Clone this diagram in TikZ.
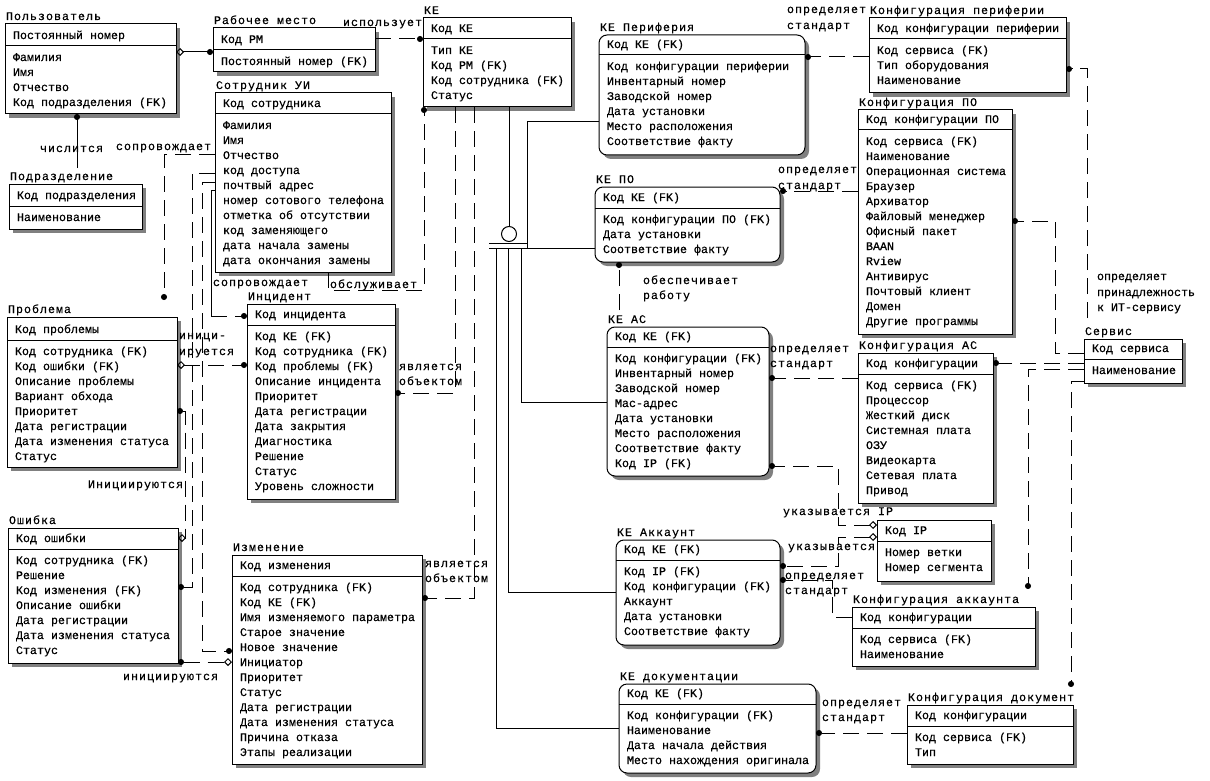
\documentclass[tikz,border=0pt]{standalone}
\usepackage{fontspec}
\newfontfamily\attrfont[FakeBold=0.4]{Liberation Mono}
\newfontfamily\lblfont[LetterSpace=8.6,FakeBold=0.4]{Liberation Mono}
\usetikzlibrary{arrows.meta,fit}
\tikzset{
  every node/.style={inner sep=0pt,outer sep=0pt},
  atxt/.style={anchor=base west,font=\attrfont\fontsize{11.67}{14}\selectfont},
  ttxt/.style={anchor=base west,font=\lblfont\fontsize{11.67}{14}\selectfont},
  ent/.style={draw,fill=white,line width=1pt,inner sep=0pt},
  sharp/.style={},
  round/.style={rounded corners=8pt},
  shadowc/.style={fill=black!50},
  rel/.style={line width=1pt},
  nid/.style={rel,dash pattern=on 16pt off 8pt},
  odia/.tip={Diamond[open,length=8pt,width=8pt]},
  fdot/.tip={Circle[length=6pt,width=6pt]},
}
\newcommand{\entity}[9]{%
  \fill[shadowc,#1] (#3+4,#4+4) rectangle (#5+4,#7+4);
  \node[ent,#1,fit={(#3,#4) (#5,#7)}] (#2) {};
  \draw[rel] (#3,#6) -- (#5,#6);
  \node[ttxt] (#2-t) at (#3+1,#4-4) {#8};
  \node[atxt] (#2-k) at (#3+8,#6-7) {#9};
}
\newcommand{\attrs}[2]{%
  \foreach \t [count=\i from 0] in {#2}
    \path (#1-k.base west) ++(0,22+15*\i) node[atxt] (#1-a\i) {\t};
}
\begin{document}
\begin{tikzpicture}[x=1pt,y=-1pt]
\fill[white] (0,0) rectangle (1210,781);
\useasboundingbox (0,0) rectangle (1210,781);

% ---------- entities ----------
\entity{sharp}{user}{5}{24}{176}{46}{114}{Пользователь}{Постоянный номер}
\attrs{user}{Фамилия,Имя,Отчество,Код подразделения (FK)}

\entity{sharp}{wp}{213}{28}{375}{50}{72}{Рабочее место}{Код РМ}
\attrs{wp}{Постоянный номер (FK)}

\entity{sharp}{ke}{423}{18}{571}{39}{107}{КЕ}{Код КЕ}
\attrs{ke}{Тип КЕ,Код РМ (FK),Код сотрудника (FK),Статус}

\entity{sharp}{emp}{215}{93}{391}{114}{272}{Сотрудник УИ}{Код сотрудника}
\attrs{emp}{Фамилия,Имя,Отчество,код доступа,почтвый адрес,номер сотового телефона,отметка об отсутствии,код заменяющего,дата начала замены,дата окончания замены}

\entity{sharp}{dep}{9}{184}{142}{206}{229}{Подразделение}{Код подразделения}
\attrs{dep}{Наименование}

\entity{round}{kep}{599}{35}{805}{55}{155}{КЕ Периферия}{Код КЕ (FK)}
\attrs{kep}{Код конфигурации периферии,Инвентарный номер,Заводской номер,Дата установки,Место расположения,Соответствие факту}

\entity{round}{kepo}{595}{187}{780}{208}{262}{КЕ ПО}{Код КЕ (FK)}
\attrs{kepo}{Код конфигурации ПО (FK),Дата установки,Соответствие факту}

\entity{round}{keac}{607}{327}{769}{347}{476}{КЕ АС}{Код КЕ (FK)}
\attrs{keac}{Код конфигурации (FK),Инвентарный номер,Заводской номер,Мас-адрес,Дата установки,Место расположения,Соответствие факту,Код IP (FK)}

\entity{round}{keacc}{616}{540}{780}{560}{645}{КЕ Аккаунт}{Код КЕ (FK)}
\attrs{keacc}{Код IP (FK),Код конфигурации (FK),Аккаунт,Дата установки,Соответствие факту}

\entity{round}{kedoc}{619}{684}{816}{704}{773}{КЕ документации}{Код КЕ (FK)}
\attrs{kedoc}{Код конфигурации (FK),Наименование,Дата начала действия,Место нахождения оригинала}

\entity{sharp}{cperi}{869}{18}{1066}{39}{93}{Конфигурация периферии}{Код конфигурации периферии}
\attrs{cperi}{Код сервиса (FK),Тип оборудования,Наименование}

\entity{sharp}{cpo}{858}{110}{1012}{130}{334}{Конфигурация ПО}{Код конфигурации ПО}
\attrs{cpo}{Код сервиса (FK),Наименование,Операционная система,Браузер,Архиватор,Файловый менеджер,Офисный пакет,BAAN,Rview,Антивирус,Почтовый клиент,Домен,Другие программы}

\entity{sharp}{svc}{1084}{339}{1182}{359}{383}{Сервис}{Код сервиса}
\attrs{svc}{Наименование}

\entity{sharp}{cac}{858}{353}{993}{374}{503}{Конфигурация АС}{Код конфигурации}
\attrs{cac}{Код сервиса (FK),Процессор,Жесткий диск,Системная плата,ОЗУ,Видеокарта,Сетевая плата,Привод}

\entity{sharp}{ip}{877}{520}{991}{541}{581}{}{Код IP}
\attrs{ip}{Номер ветки,Номер сегмента}

\entity{sharp}{cacc}{852}{607}{1035}{628}{666}{Конфигурация аккаунта}{Код конфигурации}
\attrs{cacc}{Код сервиса (FK),Наименование}

\entity{sharp}{cdoc}{907}{705}{1073}{726}{764}{Конфигурация документ}{Код конфигурации}
\attrs{cdoc}{Код сервиса (FK),Тип}

\entity{sharp}{prob}{7}{317}{177}{340}{467}{Проблема}{Код проблемы}
\attrs{prob}{Код сотрудника (FK),Код ошибки (FK),Описание проблемы,Вариант обхода,Приоритет,Дата регистрации,Дата изменения статуса,Статус}

\entity{sharp}{inc}{247}{304}{395}{325}{499}{Инцидент}{Код инцидента}
\attrs{inc}{Код КЕ (FK),Код сотрудника (FK),Код проблемы (FK),Описание инцидента,Приоритет,Дата регистрации,Дата закрытия,Диагностика,Решение,Статус,Уровень сложности}

\entity{sharp}{err}{8}{528}{178}{549}{663}{Ошибка}{Код ошибки}
\attrs{err}{Код сотрудника (FK),Решение,Код изменения (FK),Описание ошибки,Дата регистрации,Дата изменения статуса,Статус}

\entity{sharp}{chg}{232}{555}{422}{576}{764}{Изменение}{Код изменения}
\attrs{chg}{Код сотрудника (FK),Код КЕ (FK),Имя изменяемого параметра,Старое значение,Новое значение,Инициатор,Приоритет,Статус,Дата регистрации,Дата изменения статуса,Причина отказа,Этапы реализации}

% ---------- free ends ----------
\coordinate (probTop) at (164,300);
\coordinate (depTop) at (77,168);
\coordinate (svcTop) at (1087,318);
\coordinate (caccTop) at (1028,589);
\coordinate (cdocTop) at (1071,687);
\coordinate (keacTop) at (619,310);

% ---------- subtype cluster ----------
\node[draw,circle,line width=1pt,minimum size=15pt] (cat) at (509,234) {};
\draw[rel] (509,0 |- ke.south) -- (cat.north);
\draw[rel] (489,243) coordinate (barA) -- (527,243);
\draw[rel] (489,248) coordinate (barB) -- (527,248);
\draw[rel] (527,248) -- (527,122) -- (kep.west |- 0,122);
\draw[rel] (527,248) -- (kepo.west |- 0,248);
\draw[rel] (521,248) -- (521,402) -- (keac.west |- 0,402);
\draw[rel] (508,248) -- (508,592) -- (keacc.west |- 0,592);
\draw[rel] (496,248) -- (496,728) -- (kedoc.west |- 0,728);

% ---------- relationships ----------
\draw[rel,odia-fdot] (user.east |- 0,52) -- (wp.west |- 0,52);
\draw[rel,-fdot] (depTop) -- (77,0 |- user.south);
\draw[nid,-fdot] (wp.east |- 0,39) -- (ke.west |- 0,39);
\draw[nid,-fdot] (328,0 |- emp.south) -- (328,290) -- (424,290) -- (424,0 |- ke.south);
\draw[nid,-fdot] (455,0 |- ke.south) -- (455,393) -- (inc.east |- 0,393);
\draw[nid,-fdot] (474,0 |- ke.south) -- (474,598) -- (chg.east |- 0,598);

\draw[nid,-fdot] (cperi.west |- 0,57) -- (kep.east |- 0,57);
\draw[nid,-fdot] (cpo.west |- 0,191) -- (kepo.east |- 0,191);
\draw[nid,-fdot] (svc.west |- 0,353) -- (1055,353) -- (1055,221) -- (cpo.east |- 0,221);
\draw[nid,-fdot] (svcTop) -- (1087,69) -- (cperi.east |- 0,69);
\draw[nid,-fdot] (svc.west |- 0,363) -- (cac.east |- 0,363);
\draw[nid,-fdot] (svc.west |- 0,369) -- (1028,369) -- (caccTop);
\draw[nid,-fdot] (svc.west |- 0,381) -- (1071,381) -- (cdocTop);
\draw[nid,-fdot] (cac.west |- 0,378) -- (keac.east |- 0,378);
\draw[nid,odia-fdot] (ip.west |- 0,525) -- (838,525) -- (838,466) -- (keac.east |- 0,466);
\draw[nid,odia-fdot] (ip.west |- 0,537) -- (838,537) -- (838,566) -- (keacc.east |- 0,566);
\draw[nid,-fdot] (cacc.west |- 0,617) -- (832,617) -- (832,580) -- (keacc.east |- 0,580);
\draw[nid,-fdot] (cdoc.west |- 0,733) -- (kedoc.east |- 0,733);
\draw[nid,-fdot] (keacTop) -- (619,0 |- kepo.south);

\draw[nid,-fdot] (emp.west |- 0,155) -- (164,155) -- (probTop);
\draw[nid,-fdot] (emp.west |- 0,173) -- (192,173) -- (192,587) -- (err.east |- 0,587);
\draw[nid,-fdot] (emp.west |- 0,182) -- (202,182) -- (202,651) -- (chg.west |- 0,651);
\draw[rel] (emp.west |- 0,190) -- (211,190) -- (211,316) coordinate (incBend);
\draw[nid,-fdot] (incBend) -- (inc.west |- 0,316);
\draw[nid,odia-fdot] (prob.east |- 0,365) -- (inc.west |- 0,365);
\draw[nid,fdot-odia] (prob.east |- 0,411) -- (185,411) -- (185,538) -- (err.east |- 0,538);
\draw[nid,fdot-odia] (err.east |- 0,662) -- (chg.west |- 0,662);

% ---------- labels ----------
\node[ttxt] (l1) at (343,26) {использует};
\node[ttxt] (l2) at (40,152) {числится};
\node[ttxt] (l3) at (116,150) {сопровождает};
\node[ttxt] (l4) at (330,288) {обслуживает};
\node[ttxt] (l5) at (213,286) {сопровождает};
\node[ttxt] (l6a) at (399,370) {является};
\node[ttxt] (l6b) at (399,385) {объектом};
\node[ttxt] (l7a) at (425,567) {является};
\node[ttxt] (l7b) at (425,582) {объектом};
\node[ttxt] (l8a) at (179,339) {иници-};
\node[ttxt] (l8b) at (179,355) {ируется};
\node[ttxt] (l9) at (88,488) {Инициируются};
\node[ttxt] (l10) at (123,680) {инициируются};
\node[ttxt] (l11a) at (787,13) {определяет};
\node[ttxt] (l11b) at (787,29) {стандарт};
\node[ttxt] (l12a) at (778,173) {определяет};
\node[ttxt] (l12b) at (778,189) {стандарт};
\node[ttxt] (l13a) at (643,284) {обеспечивает};
\node[ttxt] (l13b) at (643,299) {работу};
\node[ttxt] (l14a) at (770,352) {определяет};
\node[ttxt] (l14b) at (770,367) {стандарт};
\node[ttxt] (l15) at (783,515) {указывается IP};
\node[ttxt] (l16) at (788,550) {указывается};
\node[ttxt] (l17a) at (785,579) {определяет};
\node[ttxt] (l17b) at (785,594) {стандарт};
\node[ttxt] (l18a) at (822,706) {определяет};
\node[ttxt] (l18b) at (822,721) {стандарт};
\node[atxt] (l19a) at (1097,280) {определяет};
\node[atxt] (l19b) at (1097,296) {принадлежность};
\node[atxt] (l19c) at (1097,311) {к ИТ-сервису};
\end{tikzpicture}
\end{document}
